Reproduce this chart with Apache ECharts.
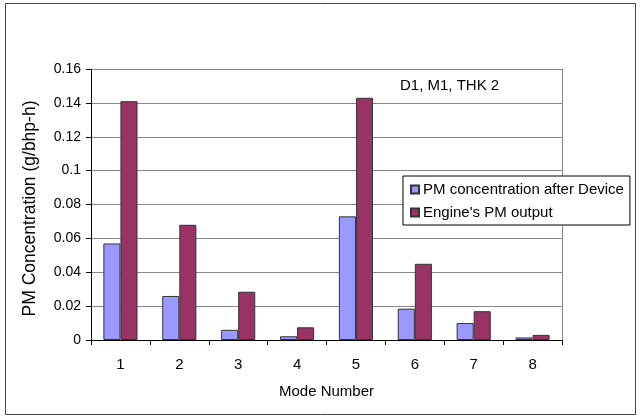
<!DOCTYPE html>
<html><head><meta charset="utf-8">
<script src="https://cdn.jsdelivr.net/npm/echarts@6/dist/echarts.min.js"></script>
<style>html,body{margin:0;padding:0;background:#fff}#c{width:641px;height:419px}</style>
</head><body><div id="c"></div>
<script>
const categories = ['1','2','3','4','5','6','7','8'];
const afterDevice = [0.057, 0.026, 0.006, 0.0022, 0.073, 0.0185, 0.010, 0.0015];
const engineOutput = [0.141, 0.068, 0.0285, 0.0075, 0.143, 0.045, 0.017, 0.003];
const seriesNames = ['PM concentration after Device', "Engine's PM output"];
const font = 'Liberation Sans, Arial, sans-serif';
const chart = echarts.init(document.getElementById('c'));
chart.setOption({
  animation: false,
  backgroundColor: '#fff',
  textStyle: {fontFamily: font},
  grid: {left: 91, right: 79, top: 69, bottom: 79},
  legend: {
    orient: 'vertical', left: 403, top: 176, itemWidth: 8, itemHeight: 8,
    itemGap: 8, padding: [6, 6, 5, 7], borderColor: '#000', borderWidth: 1,
    backgroundColor: '#fff', icon: 'rect',
    textStyle: {fontFamily: font, fontSize: 15, color: '#000', padding: [0,0,0,-1]},
    data: seriesNames
  },
  graphic: [
    {type: 'rect', shape: {x: 5.5, y: 3.5, width: 630, height: 411}, style: {fill: 'none', stroke: '#444', lineWidth: 1}, silent: true},
    {type: 'text', left: 400, top: 78, style: {text: 'D1, M1, THK 2', font: '15px ' + font, fill: '#000'}},
    {type: 'line', shape: {x1: 562.5, y1: 69, x2: 562.5, y2: 340}, style: {stroke: '#888', lineWidth: 1}, silent: true}
  ],
  xAxis: {
    type: 'category', data: categories,
    name: 'Mode Number', nameLocation: 'middle', nameGap: 44,
    nameTextStyle: {fontFamily: font, fontSize: 15, color: '#000'},
    axisLine: {lineStyle: {color: '#000'}},
    axisTick: {show: true, length: 5, lineStyle: {color: '#000'}},
    axisLabel: {fontFamily: font, fontSize: 15, color: '#000', margin: 17}
  },
  yAxis: {
    type: 'value', min: 0, max: 0.16, interval: 0.02,
    name: 'PM Concentration (g/bhp-h)', nameLocation: 'middle', nameGap: 52,
    nameTextStyle: {fontFamily: font, fontSize: 17.5, color: '#000', padding: [0, 0, 0, -8]},
    axisLine: {show: true, lineStyle: {color: '#000'}},
    axisTick: {show: true, length: 5, lineStyle: {color: '#000'}},
    axisLabel: {fontFamily: font, fontSize: 14, color: '#000', margin: 10,
      formatter: v => String(+v.toFixed(2))},
    splitLine: {lineStyle: {color: '#888', width: 1}}
  },
  series: [
    {name: seriesNames[0], type: 'bar', data: afterDevice, barGap: '0%', barCategoryGap: '42%',
     itemStyle: {color: '#9999FF', borderColor: '#333', borderWidth: 1}},
    {name: seriesNames[1], type: 'bar', data: engineOutput,
     itemStyle: {color: '#993366', borderColor: '#333', borderWidth: 1}}
  ]
});
</script></body></html>
